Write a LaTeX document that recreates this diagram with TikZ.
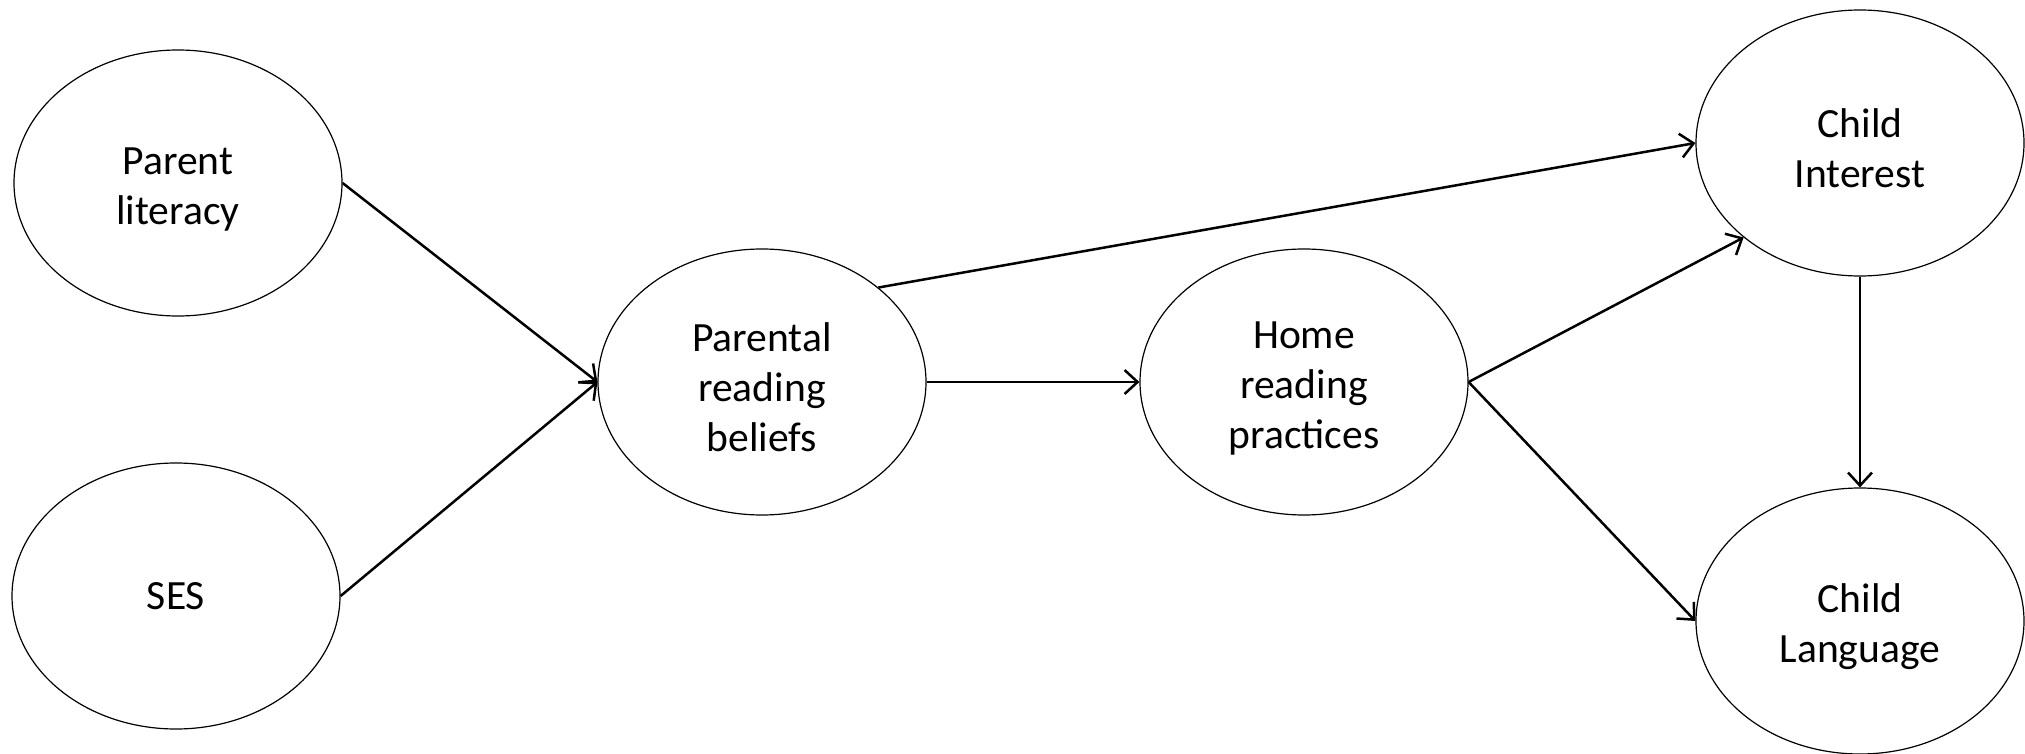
\documentclass[tikz,border=0pt]{standalone}
\usepackage{fontspec}
\setmainfont{Carlito}
\usetikzlibrary{arrows.meta,shapes.geometric}
% taller first line, so that multi-line labels sit a little lower
\newcommand{\firstline}{\rule{0pt}{20pt}}
\begin{document}
\begin{tikzpicture}[x=0.5pt,y=-0.5pt,
  latent/.style={draw, line width=0.6pt, ellipse, minimum width=164pt,
    minimum height=133pt, inner sep=0pt, align=center,
    font=\fontsize{20.8pt}{25pt}\selectfont},
  link/.style={line width=1.25pt,
    -{Straight Barb[length=6.5pt,width=12pt,line width=1.25pt]}}]
\useasboundingbox (0,0) rectangle (2025,754);

% constructs
\node[latent] (pl)  at (178,183)  {\firstline Parent\\literacy};
\node[latent] (ses) at (176,596)  {SES};
\node[latent] (prb) at (762,382)  {\firstline Parental\\reading\\beliefs};
\node[latent] (hrp) at (1304,382) {\firstline Home\\reading\\practices};
\node[latent] (ci)  at (1860,143) {\firstline Child\\Interest};
\node[latent] (cl)  at (1860,621) {\firstline Child\\Language};

% paths
\draw[link] (pl.east)  -- (prb.west);
\draw[link] (ses.east) -- (prb.west);
\draw[link] (prb.east) -- (hrp.west);
\draw[link] (prb.north east) -- (ci.west);
\draw[link] (hrp.east) -- (ci.south west);
\draw[link] (hrp.east) -- (cl.west);
\draw[link] (ci.south) -- (cl.north);
\end{tikzpicture}
\end{document}
